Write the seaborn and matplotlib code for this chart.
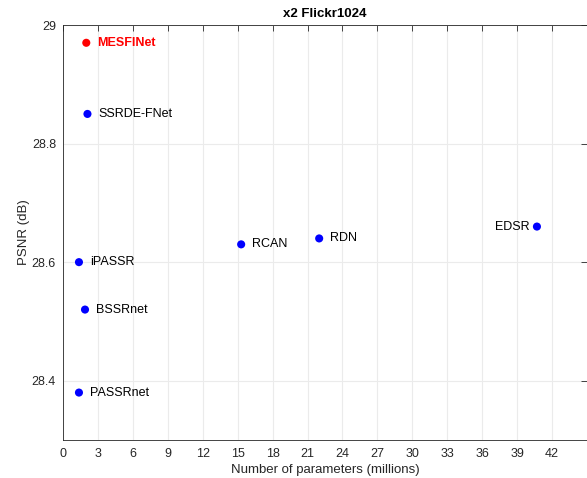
import matplotlib
matplotlib.use("Agg")
import matplotlib.pyplot as plt
import seaborn as sns
import pandas as pd

# Model complexity vs. PSNR on Flickr1024 (x2)
models = ["MESFINet", "SSRDE-FNet", "iPASSR", "BSSRnet", "PASSRnet", "RCAN", "RDN", "EDSR"]
params_m = [2.0, 2.1, 1.37, 1.89, 1.37, 15.3, 22.0, 40.7]
psnr_db = [28.97, 28.85, 28.60, 28.52, 28.38, 28.63, 28.64, 28.66]
x_ticks = list(range(0, 43, 3))
y_ticks = [28.4, 28.6, 28.8, 29.0]
y_tick_labels = ["28.4", "28.6", "28.8", "29"]

df = pd.DataFrame({"model": models, "params": params_m, "psnr": psnr_db})
df["group"] = ["ours" if m == "MESFINet" else "other" for m in models]

sns.set_style("white")
plt.rcParams["font.family"] = ["Liberation Sans", "DejaVu Sans"]
ink = "#262626"

fig = plt.figure(figsize=(5.87, 4.78), dpi=100)
ax = fig.add_axes([63 / 587, 38 / 478, 524 / 587, 415 / 478])

sns.scatterplot(data=df, x="params", y="psnr", hue="group",
                palette={"ours": "#ff0000", "other": "#0000ff"},
                s=34, edgecolor="none", legend=False, ax=ax, zorder=3)

for m, x, y in zip(models, params_m, psnr_db):
    if m == "MESFINet":
        ax.annotate(m, (x, y), xytext=(8, 0), textcoords="offset points",
                    va="center", ha="left", fontsize=9, color="#ff0000",
                    fontweight="bold")
    elif m == "EDSR":
        ax.annotate(m, (x, y), xytext=(-5, 0), textcoords="offset points",
                    va="center", ha="right", fontsize=9, color="black")
    else:
        ax.annotate(m, (x, y), xytext=(8, 0), textcoords="offset points",
                    va="center", ha="left", fontsize=9, color="black")

ax.set_xlim(0, 45)
ax.set_ylim(28.3, 29.0)
ax.set_xticks(x_ticks)
ax.set_yticks(y_ticks)
ax.set_yticklabels(y_tick_labels)
ax.grid(True, color="#ebebeb", linewidth=0.8)
ax.set_axisbelow(True)
ax.tick_params(direction="in", length=4, width=0.6, colors=ink,
               labelsize=9, top=True, right=True, labelcolor=ink)
ax.tick_params(axis="x", pad=6)
ax.tick_params(axis="y", pad=5)
for side, sp in ax.spines.items():
    sp.set_color(ink)
    sp.set_linewidth(0.6)

ax.set_xlabel("Number of parameters (millions)", fontsize=9.5, color=ink, labelpad=3)
ax.set_ylabel("PSNR (dB)", fontsize=9.5, color=ink, labelpad=1)
ax.set_title("x2 Flickr1024", fontsize=9.5, fontweight="bold", color="black", pad=6)

fig.savefig("out.png", dpi=100)
